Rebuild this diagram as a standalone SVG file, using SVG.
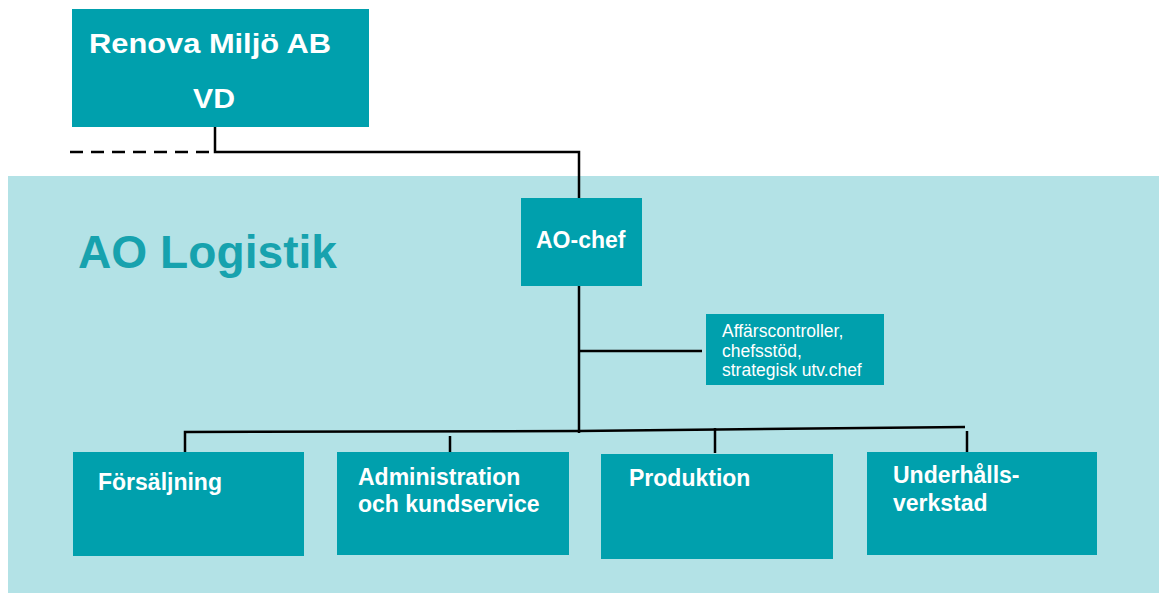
<svg xmlns="http://www.w3.org/2000/svg" width="1159" height="593" viewBox="0 0 1159 593">
<style>
.box{fill:#00a0ad}
.t{font-family:"Liberation Sans",Arial,sans-serif;fill:#ffffff}
.b{font-weight:bold}
.ln{stroke:#000;stroke-width:2.5;fill:none}
</style>
<rect x="0" y="0" width="1159" height="593" fill="#ffffff"/>
<rect id="band" x="8" y="176" width="1151" height="417" fill="#b3e2e6"/>
<text id="title" x="78" y="268" font-family="Liberation Sans, Arial, sans-serif" font-weight="bold" font-size="46" fill="#17a2ae" textLength="259" lengthAdjust="spacingAndGlyphs">AO Logistik</text>
<g id="connectors">
  <path class="ln" d="M215 127 V152 H579 V199"/>
  <path class="ln" d="M70 152 H215" stroke-dasharray="13,8"/>
  <path class="ln" d="M579 286 V433"/>
  <path class="ln" d="M579 351 H702"/>
  <path class="ln" d="M185 452 V432 L579 431 L965 427"/>
  <path class="ln" d="M450 436 V452"/>
  <path class="ln" d="M715 428 V453"/>
  <path class="ln" d="M967 431 V452"/>
</g>
<g id="vd">
  <rect class="box" x="72" y="9" width="297" height="118"/>
  <text class="t b" x="89" y="53" font-size="28" textLength="242" lengthAdjust="spacingAndGlyphs">Renova Miljö AB</text>
  <text class="t b" x="193" y="108" font-size="28" textLength="42" lengthAdjust="spacingAndGlyphs">VD</text>
</g>
<g id="aochef">
  <rect class="box" x="521" y="198" width="121" height="88"/>
  <text class="t b" x="536" y="248" font-size="23">AO-chef</text>
</g>
<g id="stab">
  <rect class="box" x="706" y="314" width="178" height="71"/>
  <text class="t" x="722" y="337" font-size="17.5">Affärscontroller,</text>
  <text class="t" x="722" y="356.5" font-size="17.5">chefsstöd,</text>
  <text class="t" x="722" y="376" font-size="17.5">strategisk utv.chef</text>
</g>
<g id="forsaljning">
  <rect class="box" x="73" y="452" width="231" height="104"/>
  <text class="t b" x="98" y="490" font-size="23">Försäljning</text>
</g>
<g id="administration">
  <rect class="box" x="337" y="452" width="232" height="103"/>
  <text class="t b" x="358" y="485" font-size="23">Administration</text>
  <text class="t b" x="358" y="512" font-size="23">och kundservice</text>
</g>
<g id="produktion">
  <rect class="box" x="601" y="454" width="232" height="105"/>
  <text class="t b" x="629" y="486" font-size="23">Produktion</text>
</g>
<g id="underhall">
  <rect class="box" x="867" y="452" width="230" height="103"/>
  <text class="t b" x="893" y="483" font-size="23">Underhålls-</text>
  <text class="t b" x="893" y="511" font-size="23">verkstad</text>
</g>
</svg>
